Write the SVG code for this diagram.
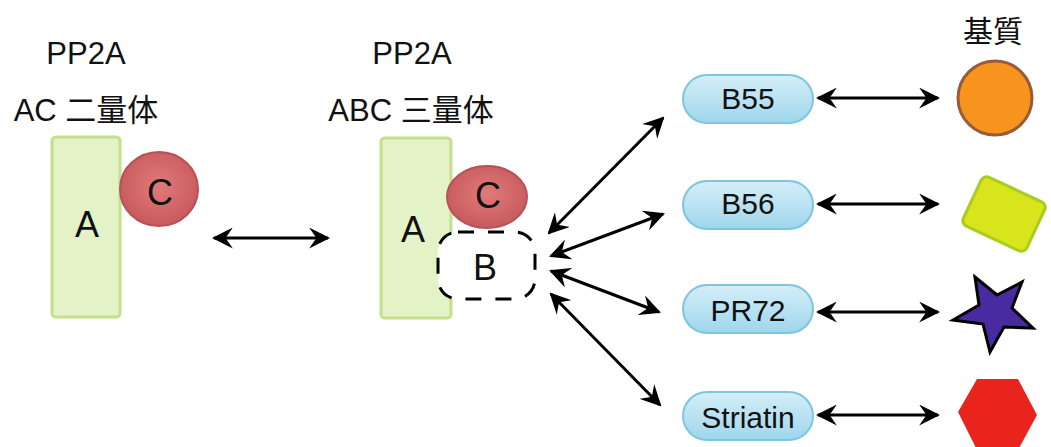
<svg xmlns="http://www.w3.org/2000/svg" width="1051" height="447" viewBox="0 0 1051 447">
<defs>
<marker id="ah" viewBox="0 0 10 10" refX="9" refY="5" markerWidth="7" markerHeight="7" orient="auto-start-reverse" markerUnits="strokeWidth">
<path d="M0,0 L10,5 L0,10 L3.5,5 Z" fill="#000"/>
</marker>
<linearGradient id="pill" x1="0" y1="0" x2="0" y2="1">
<stop offset="0" stop-color="#d4eef8"/><stop offset="1" stop-color="#9fd6ec"/>
</linearGradient>
<radialGradient id="cg" cx="0.5" cy="0.45" r="0.55">
<stop offset="0" stop-color="#e07a7a"/><stop offset="1" stop-color="#c85a5c"/>
</radialGradient>
</defs>
<style>
text{font-family:"Liberation Sans","Noto Sans CJK JP",sans-serif;fill:#111;text-anchor:middle}
.t{font-size:31px}
.p{font-size:30px}
.big{font-size:36px}
.a{fill:#e4f2c8;stroke:#c4e08a;stroke-width:3}
.c{fill:url(#cg);stroke:#b85058;stroke-width:2}
.pill{fill:url(#pill);stroke:#7cc6e4;stroke-width:2}
.ln{stroke:#000;stroke-width:3;fill:none;marker-start:url(#ah);marker-end:url(#ah)}
</style>
<rect width="1051" height="447" fill="#fff"/>
<g id="label-ac">
<text class="t" x="86" y="64">PP2A</text>
<text class="t" x="86" y="121">AC 二量体</text>
</g>
<g id="dimer">
<rect class="a" x="52" y="137" width="68" height="180" rx="4"/>
<text class="big" x="87" y="237">A</text>
<ellipse class="c" cx="159" cy="189" rx="39" ry="37"/>
<text class="big" x="160" y="205">C</text>
</g>
<g id="label-abc">
<text class="t" x="412" y="64">PP2A</text>
<text class="t" x="411" y="121">ABC 三量体</text>
</g>
<g id="trimer">
<rect class="a" x="381" y="138" width="70" height="180" rx="4"/>
<text class="big" x="413" y="242">A</text>
<ellipse class="c" cx="487" cy="197" rx="40" ry="31"/>
<text class="big" x="488" y="208">C</text>
<rect x="438" y="232" width="97" height="67" rx="20" fill="#fff" stroke="#000" stroke-width="3" stroke-dasharray="16,14"/>
<text class="big" x="485" y="280">B</text>
</g>
<g id="substrate-label"><text class="p" x="993" y="42">基質</text></g>
<g id="b55"><rect class="pill" x="683" y="75" width="130" height="48" rx="24"/><text class="p" x="748" y="109">B55</text></g>
<g id="b56"><rect class="pill" x="683" y="181" width="130" height="48" rx="24"/><text class="p" x="748" y="214">B56</text></g>
<g id="pr72"><rect class="pill" x="683" y="285" width="130" height="48" rx="24"/><text class="p" x="748" y="321">PR72</text></g>
<g id="striatin"><rect class="pill" x="683" y="392" width="130" height="48" rx="24"/><text class="p" x="748" y="428">Striatin</text></g>
<g id="s-circle"><circle cx="995" cy="98" r="37" fill="#f7941d" stroke="#9a5a3a" stroke-width="3"/></g>
<g id="s-rect"><rect x="-35" y="-27" width="70" height="54" rx="6" transform="translate(1004,214) rotate(25)" fill="#d8e41c" stroke="#a8cc20" stroke-width="3"/></g>
<g id="s-star"><polygon points="975,277 997,295 1022,282 1012,308 1033,328 1004,327 990,352 983,324 953,320 979,305" fill="#4a2aa0" stroke="#000" stroke-width="3"/></g>
<g id="s-hex"><polygon points="977,379 1018,379 1037,415 1018,450 977,450 958,412" fill="#e8241c"/></g>
<g id="connectors">
<line class="ln" x1="214" y1="238" x2="328" y2="238"/>
<line class="ln" x1="549" y1="233" x2="663" y2="118"/>
<line class="ln" x1="551" y1="256" x2="663" y2="214"/>
<line class="ln" x1="551" y1="271" x2="659" y2="312"/>
<line class="ln" x1="551" y1="294" x2="660" y2="405"/>
<line class="ln" x1="818" y1="98" x2="938" y2="98"/>
<line class="ln" x1="818" y1="204" x2="938" y2="204"/>
<line class="ln" x1="818" y1="312" x2="938" y2="312"/>
<line class="ln" x1="818" y1="415" x2="938" y2="415"/>
</g>
</svg>
